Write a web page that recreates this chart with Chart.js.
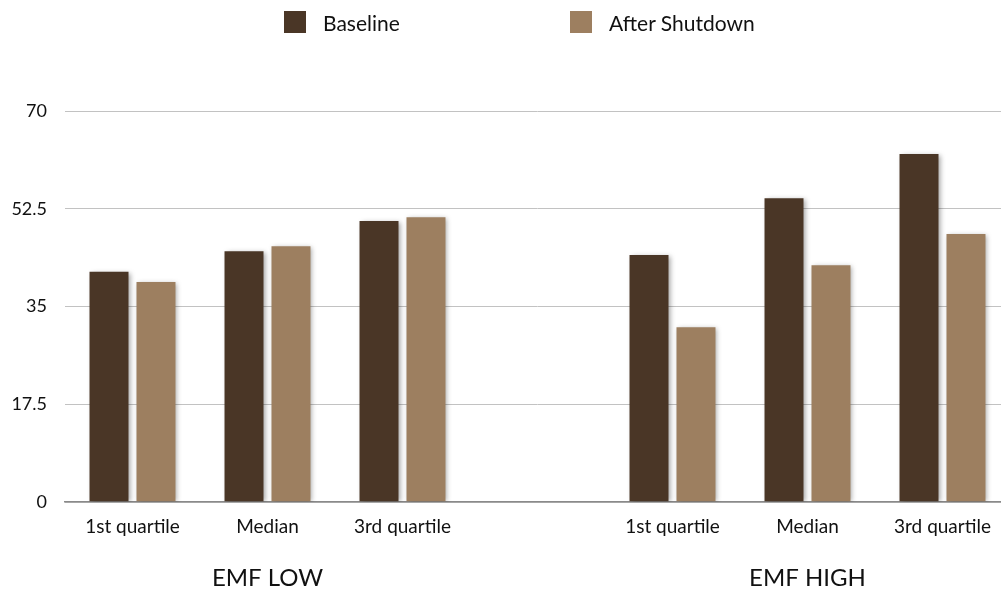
<!DOCTYPE html>
<html>
<head>
<meta charset="utf-8">
<script src="https://cdn.jsdelivr.net/npm/chart.js@4.4.0/dist/chart.umd.min.js"></script>
<style>
  html, body { margin: 0; padding: 0; background: #fff; overflow: hidden; }
  #wrap { position: relative; width: 1010px; height: 589px; }
  #legend { position: absolute; top: 11px; left: 0; font: 21px Lato, sans-serif; color: #111; }
  .item { position: absolute; top: 0; display: flex; align-items: center; height: 22px; white-space: nowrap; }
  .swatch { width: 22px; height: 22px; margin-right: 17px; }
</style>
</head>
<body>
<div id="wrap">
  <div id="legend"></div>
  <canvas id="chart" width="1010" height="589"></canvas>
</div>
<script>
// quartiles for each EMF group; the empty slot keeps the two groups apart
const categories = ['1st quartile', 'Median', '3rd quartile', '', '1st quartile', 'Median', '3rd quartile'];
const groupLabels = ['', 'EMF LOW', '', '', '', 'EMF HIGH', ''];
const baseline = [41.2, 44.9, 50.3, null, 44.2, 54.4, 62.3];
const afterShutdown = [39.4, 45.8, 51.0, null, 31.3, 42.4, 48.0];
const yTicks = [0, 17.5, 35, 52.5, 70];

const seriesNames = ['Baseline', 'After Shutdown'];
const seriesColors = ['#4a3626', '#9d7f60'];

// soft drop shadow under the bars
const barShadow = {
    id: 'barShadow',
    beforeDatasetsDraw(chart) {
        const c = chart.ctx;
        c.save();
        c.shadowColor = 'rgba(0, 0, 0, 0.35)';
        c.shadowBlur = 5;
        c.shadowOffsetX = 2;
        c.shadowOffsetY = 1;
    },
    afterDatasetsDraw(chart) {
        chart.ctx.restore();
    }
};

const ctx = document.getElementById('chart').getContext('2d');
const chart = new Chart(ctx, {
    type: 'bar',
    data: {
        labels: categories,
        datasets: [
            { label: seriesNames[0], data: baseline, backgroundColor: seriesColors[0] },
            { label: seriesNames[1], data: afterShutdown, backgroundColor: seriesColors[1] }
        ]
    },
    options: {
        responsive: false,
        animation: false,
        categoryPercentage: 0.696,
        barPercentage: 0.83,
        layout: { padding: { top: 111, left: 10, right: 0, bottom: 0 } },
        plugins: {
            legend: { display: false },
            tooltip: { enabled: false }
        },
        scales: {
            x: {
                grid: { display: false, drawTicks: false },
                border: { display: true, color: '#8a8a8a', width: 1.5 },
                ticks: { font: { family: 'Lato, sans-serif', size: 19 }, color: '#111', padding: 13, maxRotation: 0, autoSkip: false },
                afterFit: s => { s.height = 40; }
            },
            x2: {
                type: 'category',
                labels: groupLabels,
                position: 'bottom',
                offset: true,
                grid: { display: false, drawTicks: false },
                border: { display: false },
                ticks: { font: { family: 'Lato, sans-serif', size: 24 }, color: '#111', padding: 22, maxRotation: 0, autoSkip: false },
                afterFit: s => { s.height = 47; }
            },
            y: {
                min: 0,
                max: 70,
                afterBuildTicks: s => { s.ticks = yTicks.map(v => ({ value: v })); },
                grid: {
                    drawTicks: false,
                    color: c => c.tick && c.tick.value === 0 ? '#8a8a8a' : '#c2c2c2',
                    lineWidth: c => c.tick && c.tick.value === 0 ? 1.5 : 1
                },
                border: { display: false },
                ticks: { font: { family: 'Lato, sans-serif', size: 18 }, color: '#111', padding: 18 },
                afterFit: s => { s.width = 55; }
            }
        }
    },
    plugins: [barShadow]
});

// legend above the plot
const legendLeft = [284, 570];
const legend = document.getElementById('legend');
chart.data.datasets.forEach((ds, i) => {
    const item = document.createElement('div');
    item.className = 'item';
    item.style.left = legendLeft[i] + 'px';
    item.innerHTML = `<span class="swatch" style="background:${ds.backgroundColor}"></span><span>${ds.label}</span>`;
    legend.appendChild(item);
});
</script>
</body>
</html>
